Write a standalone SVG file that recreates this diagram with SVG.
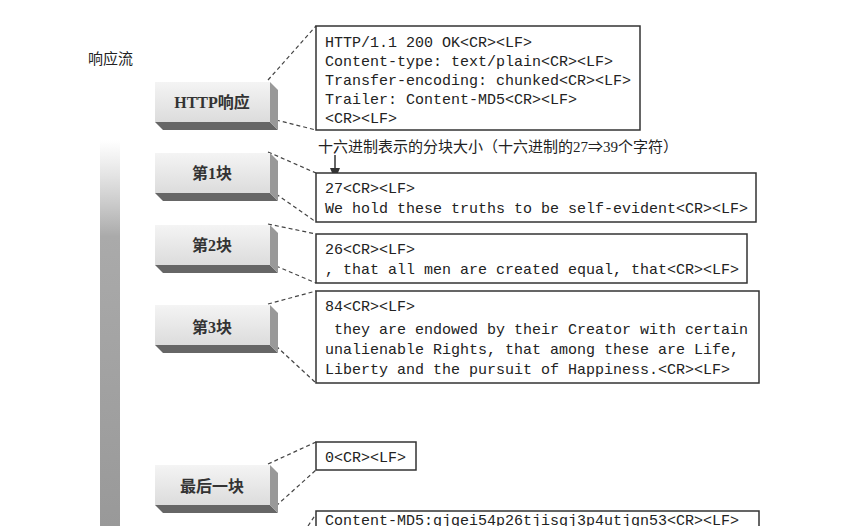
<svg xmlns="http://www.w3.org/2000/svg" width="844" height="526" viewBox="0 0 844 526">
<style>
.mono{font-family:"Liberation Mono",monospace;font-size:15px;fill:#222}
.cjk{font-family:"Liberation Serif","Noto Sans CJK SC",serif;font-size:15px;fill:#222}
.bt{font-family:"Liberation Serif","Noto Sans CJK SC",serif;font-size:16px;fill:#333;text-anchor:middle;font-weight:bold}
.box{fill:#fff;stroke:#333;stroke-width:1.5}
.dash{stroke:#444;stroke-width:1.2;stroke-dasharray:4 3;fill:none}
</style>
<defs>
<linearGradient id="bar" x1="0" y1="0" x2="0" y2="1">
<stop offset="0" stop-color="#bbb" stop-opacity="0"/>
<stop offset="0.25" stop-color="#aaa"/>
<stop offset="1" stop-color="#999"/>
</linearGradient>
<linearGradient id="face" x1="0" y1="0" x2="0" y2="1">
<stop offset="0" stop-color="#f4f4f4"/>
<stop offset="1" stop-color="#dcdcdc"/>
</linearGradient>
<g id="btn">
<polygon points="0,40 115,40 123,48 8,48" fill="#666"/>
<polygon points="115,0 123,8 123,48 115,40" fill="#999"/>
<rect x="0" y="0" width="115" height="40" fill="url(#face)"/>
</g>
</defs>
<rect width="844" height="526" fill="#fff"/>
<rect x="100" y="140" width="20" height="386" fill="url(#bar)"/>
<text class="cjk" x="88" y="64">响应流</text>
<g id="connectors">
<path class="dash" d="M268,80 L316,26 M276,120 L316,130"/>
<path class="dash" d="M268,152 L316,173 M276,194 L316,222"/>
<path class="dash" d="M268,224 L316,234 M276,266 L316,283"/>
<path class="dash" d="M268,304 L316,291 M276,346 L316,383"/>
<path class="dash" d="M268,464 L316,442 M276,506 L316,470"/>
<path class="dash" d="M308,526 L316,514"/>
<line x1="335" y1="155" x2="335" y2="173" stroke="#333" stroke-width="1.5"/>
<polygon points="330,168 340,168 335,180" fill="#333"/>
</g>
<g id="n-http"><use href="#btn" x="155" y="82"/><text class="bt" x="212" y="108">HTTP响应</text></g>
<g id="n-c1"><use href="#btn" x="155" y="153"/><text class="bt" x="212" y="179">第1块</text></g>
<g id="n-c2"><use href="#btn" x="155" y="225"/><text class="bt" x="212" y="251">第2块</text></g>
<g id="n-c3"><use href="#btn" x="155" y="305"/><text class="bt" x="212" y="333">第3块</text></g>
<g id="n-last"><use href="#btn" x="155" y="465"/><text class="bt" x="212" y="492">最后一块</text></g>
<g id="b-head"><rect class="box" x="316" y="26" width="324" height="104"/>
<text class="mono" x="325" y="47">HTTP/1.1 200 OK&lt;CR&gt;&lt;LF&gt;</text>
<text class="mono" x="325" y="66">Content-type: text/plain&lt;CR&gt;&lt;LF&gt;</text>
<text class="mono" x="325" y="85">Transfer-encoding: chunked&lt;CR&gt;&lt;LF&gt;</text>
<text class="mono" x="325" y="104">Trailer: Content-MD5&lt;CR&gt;&lt;LF&gt;</text>
<text class="mono" x="325" y="123">&lt;CR&gt;&lt;LF&gt;</text></g>
<text class="cjk" x="318" y="152">十六进制表示的分块大小（十六进制的27⇒39个字符）</text>
<g id="b-1"><rect class="box" x="316" y="173" width="440" height="49"/>
<text class="mono" x="325" y="193">27&lt;CR&gt;&lt;LF&gt;</text>
<text class="mono" x="325" y="213">We hold these truths to be self-evident&lt;CR&gt;&lt;LF&gt;</text></g>
<g id="b-2"><rect class="box" x="316" y="234" width="431" height="49"/>
<text class="mono" x="325" y="254">26&lt;CR&gt;&lt;LF&gt;</text>
<text class="mono" x="325" y="274">, that all men are created equal, that&lt;CR&gt;&lt;LF&gt;</text></g>
<g id="b-3"><rect class="box" x="316" y="291" width="443" height="92"/>
<text class="mono" x="325" y="311">84&lt;CR&gt;&lt;LF&gt;</text>
<text class="mono" x="334" y="334">they are endowed by their Creator with certain</text>
<text class="mono" x="325" y="354">unalienable Rights, that among these are Life,</text>
<text class="mono" x="325" y="374">Liberty and the pursuit of Happiness.&lt;CR&gt;&lt;LF&gt;</text></g>
<g id="b-4"><rect class="box" x="316" y="442" width="100" height="28"/>
<text class="mono" x="325" y="462">0&lt;CR&gt;&lt;LF&gt;</text></g>
<g id="b-5"><rect class="box" x="316" y="511" width="443" height="30"/>
<text class="mono" x="325" y="525">Content-MD5:gjqei54p26tjisgj3p4utjgn53&lt;CR&gt;&lt;LF&gt;</text></g>
</svg>
